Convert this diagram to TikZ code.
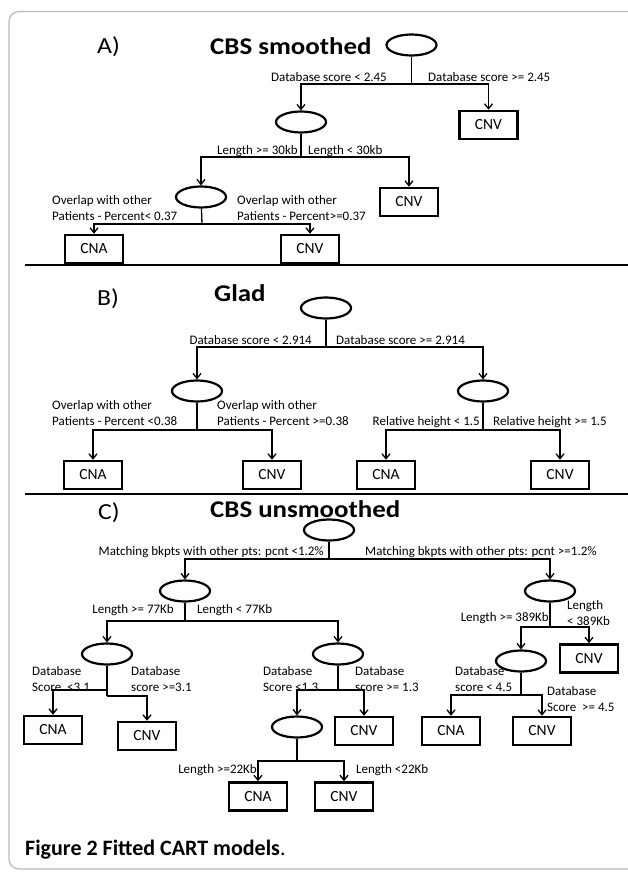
\documentclass[tikz,border=0pt]{standalone}
\usepackage{fontspec}
\setmainfont{Carlito}
\newfontfamily\headfont{Carlito}[FakeStretch=1.12]
\usetikzlibrary{shapes.geometric,arrows.meta,positioning}

\begin{document}
\begin{tikzpicture}[x=1pt, y=-1pt,
    decision/.style={ellipse, draw, line width=2.2pt, minimum width=50pt, minimum height=21pt, inner sep=0pt},
    outcome/.style={rectangle, draw, line width=2.5pt, minimum width=58pt, minimum height=28pt, inner sep=0pt, font=\fontsize{15.5}{18}\selectfont},
    cond/.style={inner sep=0pt, align=left, font=\fontsize{13}{16}\selectfont},
    panel/.style={inner sep=0pt, anchor=base west, font=\headfont\fontsize{23}{26}\selectfont},
    title/.style={inner sep=0pt, anchor=base west, font=\headfont\bfseries\fontsize{24}{28}\selectfont},
    stem/.style={line width=1.3pt},
    edge/.style={line width=1.3pt, -{Straight Barb[length=5pt,width=8pt]}}]
        \useasboundingbox (0,0) rectangle (628,872);
        
        % Frame and separators
        \draw[gray!55, line width=1.2pt, rounded corners=10pt] (640,11.5) -- (9,11.5) -- (9,869) -- (640,869);
        \draw[line width=2pt] (25,265) -- (628,265);
        \draw[line width=2pt] (25,494) -- (628,494);
        
        % A) CBS smoothed
        \node[panel] (labA) at (97,54) {A)};
        \node[title] (titA) at (210,55) {CBS smoothed};
        \node[decision] (ar) at (411.5,45) {};
        \coordinate (aj) at (411.5,84);
        \node[decision] (a1) at (301,122) {};
        \node[outcome] (a2) at (488.5,125) {CNV};
        \draw[stem] (ar) -- (aj);
        \draw[edge] (aj) -| (a1);
        \draw[edge] (aj) -| (a2);
        \node[cond, anchor=base east] at (387,81.5) {Database score < 2.45};
        \node[cond, anchor=base west] at (428,81.5) {Database score >= 2.45};
        
        \coordinate (aj1) at (301,157);
        \node[decision] (a3) at (201,197) {};
        \node[outcome] (a4) at (409,202) {CNV};
        \draw[stem] (a1) -- (aj1);
        \draw[edge] (aj1) -| (a3);
        \draw[edge] (aj1) -| (a4);
        \node[cond, anchor=base east] at (298,154) {Length >= 30kb};
        \node[cond, anchor=base west] at (308,154) {Length < 30kb};
        
        \coordinate (aj3) at (202,224);
        \node[outcome] (a5) at (94,249) {CNA};
        \node[outcome] (a6) at (310,249) {CNV};
        \draw[stem] (a3) -- (aj3);
        \draw[edge] (aj3) -| (a5);
        \draw[edge] (aj3) -| (a6);
        \node[cond, anchor=north west] at (52,195) {Overlap with other\\Patients - Percent< 0.37};
        \node[cond, anchor=north west] at (237,195) {Overlap with other\\Patients - Percent>=0.37};
        
        % B) Glad
        \node[panel] (labB) at (97,305) {B)};
        \node[title] (titB) at (214,301) {Glad};
        \node[decision] (br) at (326,308) {};
        \coordinate (bj) at (326,347);
        \node[decision] (b1) at (197,391) {};
        \node[decision] (b2) at (483,391) {};
        \draw[stem] (br) -- (bj);
        \draw[edge] (bj) -| (b1);
        \draw[edge] (bj) -| (b2);
        \node[cond, anchor=base east] at (312,344) {Database score < 2.914};
        \node[cond, anchor=base west] at (336,344) {Database score >= 2.914};
        
        \coordinate (bj1) at (197,430);
        \node[outcome] (b3) at (93,475) {CNA};
        \node[outcome] (b4) at (272,475) {CNV};
        \draw[stem] (b1) -- (bj1);
        \draw[edge] (bj1) -| (b3);
        \draw[edge] (bj1) -| (b4);
        \node[cond, anchor=north west] at (52,400) {Overlap with other\\Patients - Percent <0.38};
        \node[cond, anchor=north west] at (217,400) {Overlap with other\\Patients - Percent >=0.38};
        
        \coordinate (bj2) at (483,430);
        \node[outcome] (b5) at (386,475) {CNA};
        \node[outcome] (b6) at (560,475) {CNV};
        \draw[stem] (b2) -- (bj2);
        \draw[edge] (bj2) -| (b5);
        \draw[edge] (bj2) -| (b6);
        \node[cond, anchor=base east] at (480,425) {Relative height < 1.5};
        \node[cond, anchor=base west] at (493,425) {Relative height >= 1.5};
        
        % C) CBS unsmoothed
        \node[panel] (labC) at (98,519) {C)};
        \node[title] (titC) at (210,517) {CBS unsmoothed};
        \node[decision] (cr) at (329,530) {};
        \coordinate (cj) at (329,559);
        \node[decision] (c1) at (185,591) {};
        \node[decision] (c2) at (550,591) {};
        \draw[stem] (cr) -- (cj);
        \draw[edge] (cj) -| (c1);
        \draw[edge] (cj) -| (c2);
        \node[cond, anchor=base east] at (324,555.5) {Matching bkpts with other pts: pcnt <1.2\%};
        \node[cond, anchor=base west] at (365,555.5) {Matching bkpts with other pts: pcnt >=1.2\%};
        
        \coordinate (cj1) at (185,621);
        \node[decision] (c3) at (107,654) {};
        \node[decision] (c4) at (338,654) {};
        \draw[stem] (c1) -- (cj1);
        \draw[edge] (cj1) -| (c3);
        \draw[edge] (cj1) -| (c4);
        \node[cond, anchor=base east] at (174,613.5) {Length >= 77Kb};
        \node[cond, anchor=base west] at (197,613.5) {Length < 77Kb};
        
        \coordinate (cj2) at (550,627);
        \node[decision] (c5) at (521,661) {};
        \node[outcome] (c6) at (589,658.5) {CNV};
        \draw[stem] (c2) -- (cj2);
        \draw[edge] (cj2) -| (c5);
        \draw[edge] (cj2) -| (c6);
        \node[cond, anchor=base east] at (549,621.5) {Length >= 389Kb};
        \node[cond, anchor=north west] at (567,600) {Length\\< 389Kb};
        
        % left subtree
        \coordinate (cj3) at (107,690);
        \coordinate (cj3b) at (107,696);
        \node[outcome] (c7) at (53,730) {CNA};
        \node[outcome] (c8) at (147,736) {CNV};
        \draw[stem] (c3) -- (cj3b);
        \draw[edge] (cj3) -| (c7);
        \draw[edge] (cj3b) -| (c8);
        \node[cond, anchor=north west] at (32,666) {Database\\Score~ <3.1};
        \node[cond, anchor=north west] at (131,666) {Database\\score >=3.1};
        
        \coordinate (cj4) at (338,690);
        \node[decision] (c9) at (297,727) {};
        \node[outcome] (c10) at (364,731) {CNV};
        \draw[stem] (c4) -- (cj4);
        \draw[edge] (cj4) -| (c9);
        \draw[edge] (cj4) -| (c10);
        \node[cond, anchor=north west] at (263,666) {Database\\Score <1.3};
        \node[cond, anchor=north west] at (355,666) {Database\\score >= 1.3};
        
        \coordinate (cj9) at (297,761);
        \node[outcome] (c11) at (258,796.5) {CNA};
        \node[outcome] (c12) at (344,796.5) {CNV};
        \draw[stem] (c9) -- (cj9);
        \draw[edge] (cj9) -| (c11);
        \draw[edge] (cj9) -| (c12);
        \node[cond, anchor=base east] at (257,773) {Length >=22Kb};
        \node[cond, anchor=base west] at (356,773) {Length <22Kb};
        
        % right subtree
        \coordinate (cj5) at (521,695);
        \node[outcome] (c13) at (451,731) {CNA};
        \node[outcome] (c14) at (542,731) {CNV};
        \draw[stem] (c5) -- (cj5);
        \draw[edge] (cj5) -| (c13);
        \draw[edge] (cj5) -| (c14);
        \node[cond, anchor=north west] at (455,666) {Database\\score < 4.5};
        \node[cond, anchor=north west] at (547,686) {Database\\Score~ >= 4.5};
        
        % Caption
        \node[inner sep=0pt, anchor=base west, font=\fontsize{22}{26}\selectfont] (cap) at (25,855) {\textbf{Figure 2 Fitted CART models}.};
    \end{tikzpicture}
\end{document}
